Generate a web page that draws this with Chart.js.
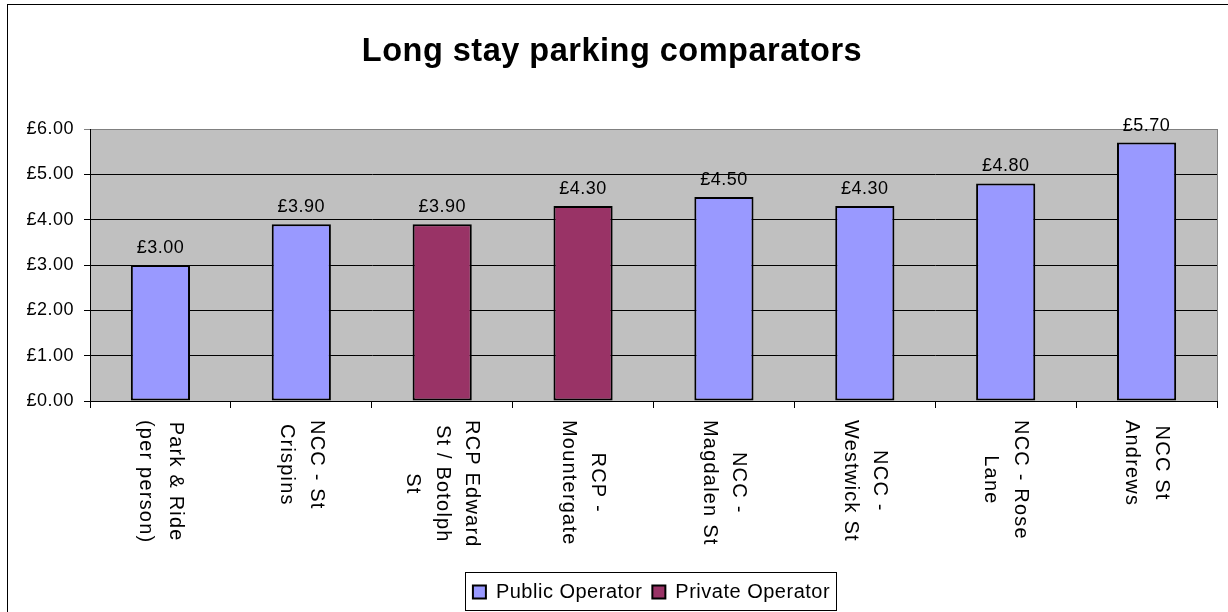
<!DOCTYPE html>
<html>
<head>
<meta charset="utf-8">
<title>Long stay parking comparators</title>
<script src="https://cdn.jsdelivr.net/npm/chart.js@4.4.0/dist/chart.umd.min.js"></script>
<style>
  body { margin: 0; background: #fff; }
  canvas { display: block; }
</style>
</head>
<body>
<canvas id="chart" width="1228" height="612"></canvas>
<script>
//chart data
const categories = [
  ['Park & Ride', '(per person)'],
  ['NCC - St', 'Crispins'],
  ['RCP Edward', 'St / Botolph', 'St'],
  ['RCP -', 'Mountergate'],
  ['NCC -', 'Magdalen St'],
  ['NCC -', 'Westwick St'],
  ['NCC - Rose', 'Lane'],
  ['NCC St', 'Andrews'],
];
const publicOperator = [3.0, 3.9, null, null, 4.5, 4.3, 4.8, 5.7];
const privateOperator = [null, null, 3.9, 4.3, null, null, null, null];
const yTicks = [0, 1, 2, 3, 4, 5, 6];

const FONT = '"Liberation Sans", Arial, sans-serif';
Chart.defaults.font.family = FONT;
Chart.defaults.color = '#000';

const money = (v) => '£' + v.toFixed(2);

//excel text is a bit wider than the browser's, so space the letters out a little
const textSpacing = {
  id: 'textSpacing',
  beforeUpdate(chart) { chart.ctx.letterSpacing = '0.5px'; },
  beforeDraw(chart) { chart.ctx.letterSpacing = '0.5px'; },
};

//outer frame and grey plot area
const plotArea = {
  id: 'plotArea',
  beforeDraw(chart) {
    const { ctx, chartArea: a } = chart;
    ctx.save();
    ctx.strokeStyle = '#000';
    ctx.lineWidth = 1;
    ctx.strokeRect(7.5, 4.5, chart.width, chart.height);
    ctx.fillStyle = '#c0c0c0';
    ctx.fillRect(a.left, a.top, a.right - a.left, a.bottom - a.top);
    ctx.strokeStyle = '#808080';
    ctx.strokeRect(Math.round(a.left) + 0.5, Math.round(a.top) + 0.5, Math.round(a.right - a.left), Math.round(a.bottom - a.top));
    ctx.restore();
  },
};

//value labels above the bars
const barLabels = {
  id: 'barLabels',
  afterDatasetsDraw(chart) {
    const { ctx } = chart;
    ctx.save();
    ctx.font = '18px ' + FONT;
    ctx.fillStyle = '#000';
    ctx.textAlign = 'center';
    ctx.textBaseline = 'middle';
    chart.data.datasets.forEach((ds, i) => {
      chart.getDatasetMeta(i).data.forEach((bar, j) => {
        if (ds.data[j] == null) return;
        ctx.fillText(money(ds.data[j]), bar.x, bar.y - 17);
      });
    });
    ctx.restore();
  },
};

//category names turned to read top to bottom, and a box round the legend
const categoryLabels = {
  id: 'categoryLabels',
  afterLayout(chart) {
    //centre the legend under the plot area rather than the whole chart
    const lg = chart.legend;
    const a = chart.chartArea;
    const shift = (a.left + a.right) / 2 - (lg.left + lg.right) / 2 - 2;
    lg.left += shift;
    lg.right += shift;
  },
  afterDraw(chart) {
    const { ctx } = chart;
    const x = chart.scales.x;
    const lineHeight = 29.5;
    ctx.save();
    ctx.font = '20px ' + FONT;
    ctx.letterSpacing = '1.2px';
    ctx.fillStyle = '#000';
    ctx.textAlign = 'center';
    ctx.textBaseline = 'middle';
    categories.forEach((lines, i) => {
      const longest = Math.max(...lines.map((l) => ctx.measureText(l).width));
      ctx.save();
      ctx.translate(x.getPixelForValue(i), x.top + 19);
      ctx.rotate(Math.PI / 2);
      lines.forEach((line, k) => {
        ctx.fillText(line, longest / 2, (k - (lines.length - 1) / 2) * lineHeight);
      });
      ctx.restore();
    });

    const lg = chart.legend;
    const hb = lg.legendHitBoxes;
    if (hb && hb.length) {
      const first = hb[0];
      const last = hb[hb.length - 1];
      const left = Math.round(first.left - 8) + 0.5;
      const right = Math.round(last.left + last.width + 6) + 0.5;
      ctx.strokeStyle = '#000';
      ctx.lineWidth = 1;
      ctx.strokeRect(left, Math.round(lg.top) + 0.5, right - left, Math.round(lg.height) - 2);
    }
    ctx.restore();
  },
};

new Chart(document.getElementById('chart'), {
  type: 'bar',
  data: {
    labels: categories,
    datasets: [
      {
        label: 'Public Operator',
        data: publicOperator,
        backgroundColor: '#9999ff',
        borderColor: '#000',
        borderWidth: 2,
        borderSkipped: false,
        skipNull: true,
        categoryPercentage: 1,
        barPercentage: 0.42,
      },
      {
        label: 'Private Operator',
        data: privateOperator,
        backgroundColor: '#993366',
        borderColor: '#000',
        borderWidth: 2,
        borderSkipped: false,
        skipNull: true,
        categoryPercentage: 1,
        barPercentage: 0.42,
      },
    ],
  },
  options: {
    responsive: false,
    devicePixelRatio: 1,
    animation: false,
    layout: { padding: { left: 7, right: 11, top: 5, bottom: 0 } },
    plugins: {
      title: {
        display: true,
        text: 'Long stay parking comparators',
        color: '#000',
        font: { size: 32.5, weight: 'bold' },
        padding: { top: 28, bottom: 57 },
      },
      legend: {
        display: true,
        position: 'bottom',
        labels: {
          color: '#000',
          font: { size: 20 },
          boxWidth: 13,
          boxHeight: 13,
          padding: 10,
        },
      },
      tooltip: { enabled: false },
    },
    scales: {
      x: {
        offset: true,
        grid: {
          offset: true,
          drawOnChartArea: false,
          drawTicks: true,
          tickLength: 7,
          color: '#000',
        },
        border: { color: '#000', width: 1 },
        ticks: { display: false },
        afterFit(axis) { axis.height = 171; },
      },
      y: {
        min: yTicks[0],
        max: yTicks[yTicks.length - 1],
        afterBuildTicks(axis) { axis.ticks = yTicks.map((v) => ({ value: v })); },
        grid: {
          color: (c) => (c.tick && c.tick.value === yTicks[yTicks.length - 1] ? '#808080' : '#000'),
          tickLength: 6,
        },
        border: { color: '#000', width: 1 },
        ticks: {
          font: { size: 18 },
          color: '#000',
          padding: 10,
          callback: (v) => money(v),
        },
        afterFit(axis) { axis.width = 83; },
      },
    },
  },
  plugins: [textSpacing, plotArea, barLabels, categoryLabels],
});
</script>
</body>
</html>
